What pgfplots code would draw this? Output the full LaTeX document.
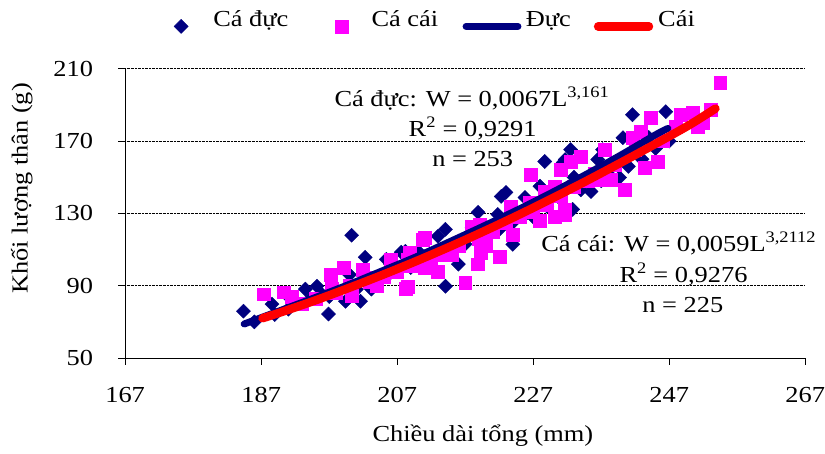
\documentclass[border=0pt]{standalone}
\usepackage{fontspec}
\setmainfont{Liberation Serif}[FakeStretch=1.15]
\usepackage{pgfplots}
\pgfplotsset{compat=1.18}
\definecolor{navyc}{HTML}{000080}
\definecolor{magc}{HTML}{FF00FF}
\definecolor{redc}{HTML}{FF0000}
\pgfplotsset{
 legmark/.style={legend image code/.code={\path (0bp,0bp) (30bp,0bp); \draw[##1] plot coordinates {(12bp,0bp)};}},
 leglineA/.style={legend image code/.code={\path (0bp,0bp) (59bp,0bp); \draw[##1] (3.5bp,0bp) -- (55.5bp,0bp);}},
 leglineB/.style={legend image code/.code={\path (0bp,0bp) (59bp,0bp); \draw[##1] (4bp,0bp) -- (55bp,0bp);}},
}
\begin{document}
\fontsize{23bp}{28bp}\selectfont
\begin{tikzpicture}
\begin{axis}[
 scale only axis, width=682bp, height=290bp,
 xmin=167, xmax=267, ymin=50, ymax=210,
 xtick={167,187,...,267}, ytick={50,90,...,210},
 axis x line*=bottom, axis y line*=left,
 tick align=outside, major tick length=7bp,
 tick style={black, line width=0.8bp},
 axis line style={black, line width=0.8bp},
 ymajorgrids, major grid style={black, densely dotted, line width=0.7bp},
 /pgf/number format/assume math mode=true,
 xticklabel style={inner sep=0pt, anchor=north, yshift=-22bp},
 yticklabel style={inner sep=0pt, anchor=east, xshift=-25bp},
 xlabel={Chiều dài tổng (mm)}, ylabel={Khối lượng thân (g)},
 xlabel style={at={(axis description cs:0.526,-0.269)}, anchor=center, inner sep=0pt},
 ylabel style={at={(axis description cs:-0.152,0.586)}, anchor=center, inner sep=0pt},
 clip=false, clip marker paths=true,
 legend columns=4,
 legend style={draw=none, fill=none, at={(axis description cs:0.0645,1.162)}, anchor=west,
   inner sep=0pt, outer sep=0pt, nodes={inner sep=0pt, anchor=base west},
   /tikz/column 1/.style={column sep=14bp},
   /tikz/column 2/.style={column sep=41bp},
   /tikz/column 3/.style={column sep=12bp},
   /tikz/column 4/.style={column sep=21bp},
   /tikz/column 5/.style={column sep=1bp},
   /tikz/column 6/.style={column sep=19bp},
   /tikz/column 7/.style={column sep=1bp}},
]
% male scatter
\addplot[only marks, mark=square*, mark size=5bp, mark options={rotate=45, fill=navyc, draw=navyc}, legmark]
 table {
x y
184.4 75.9
188.6 79.8
193.5 88.1
195.2 89.7
196.9 74.3
200.3 117.9
202.3 105.7
199.4 81.4
201.6 81.4
205.4 104.6
208.2 109.0
203.2 88.1
228.7 158.7
232.5 165.3
231.7 159.8
222.3 139.4
223.0 141.6
225.8 138.8
218.9 130.6
221.8 129.4
214.1 121.2
213.0 117.3
216.0 101.9
224.0 112.9
214.1 89.7
207.6 108.5
210.1 109.0
241.6 184.6
246.5 186.3
240.2 171.9
231.4 158.1
236.5 159.8
239.7 149.9
235.5 142.1
232.8 132.2
237.2 165.3
186 70
189 74
191 77
192 80
194 82
197 84
198 87
201 88
204 94
206 97
209 100
211 103
212 106
215 108
217 113
219 115
220 118
222 121
224 125
226 130
227 128
229 134
231 138
234 143
237 148
238 152
241 156
243 160
245 166
247 170
244 172
191 84
200 96
196 85
206 102
218 122
228 145
233 150
};
\addlegendentry{Cá đực}
% female scatter
\addplot[only marks, mark=square*, mark size=6.5bp, mark options={fill=magc, draw=magc}, legmark]
 table {
x y
187.4 85.3
190.3 86.4
191.5 83.7
197.2 96.3
197.4 88.1
199.1 100.2
202.0 99.1
202.8 94.7
206.1 104.6
208.9 108.5
210.8 115.7
200.3 84.2
208.2 88.1
226.7 151.5
231.1 154.3
230.2 144.9
228.7 142.1
223.7 133.9
226.5 136.1
217.9 122.8
219.2 123.9
211.1 116.8
208.6 104.6
219.3 108.5
218.9 101.9
222.1 106.3
217.0 91.9
230.2 128.3
231.7 129.4
208.6 89.7
213.0 107.4
254.5 202.3
253.1 187.4
248.7 184.6
250.4 185.7
244.3 183.0
242.8 175.2
241.6 171.9
245.3 158.7
243.4 155.4
240.5 143.2
237.5 165.3
234.0 161.4
232.5 158.7
236.9 148.8
238.4 148.8
231.7 132.2
251.2 178.0
193 80
195 83
198 86
200 90
203 92
205 95
207 98
209 101
211 100
212 104
214 110
215 107
216 112
219 116
221 120
223 125
225 128
227 131
229 135
231 140
233 145
235 148
236 152
239 157
242 165
246 170
248 178
252 180
224 118
228 126
204 90
213 98
220 112
};
\addlegendentry{Cá cái}
% male fit
\addplot[navyc, line width=7bp, line cap=round, smooth, leglineA]
 coordinates {(184.5,68.8) (190,76.5) (195,83.5) (200,90.8) (205,98.5) (210,106.3) (215,114.8) (220,123.5) (225,132.5) (230,142.0) (235,152.0) (240,162.5) (245,173.5) (246.8,177.0)};
\addlegendentry{Đực}
% female fit
\addplot[redc, line width=8.5bp, line cap=round, smooth, leglineB]
 coordinates {(187.2,72.0) (190,75.4) (195,81.9) (200,88.9) (205,96.2) (210,103.9) (215,112.0) (220,120.5) (225,129.4) (230,138.7) (235,148.3) (240,158.3) (245,168.5) (250,179.0) (253.8,188.0)};
\addlegendentry{Cái}
% equations
\node[anchor=base, inner sep=0pt] at (axis cs:218.0,189.0) {Cá đực: W = 0,0067L\textsuperscript{3,161}};
\node[anchor=base, inner sep=0pt] at (axis cs:218.1,172.5) {R\textsuperscript{2} = 0,9291};
\node[anchor=base, inner sep=0pt] at (axis cs:218.1,155.9) {n = 253};
\node[anchor=base, inner sep=0pt] at (axis cs:248.4,109.0) {Cá cái: W = 0,0059L\textsuperscript{3,2112}};
\node[anchor=base, inner sep=0pt] at (axis cs:249.1,91.9) {R\textsuperscript{2} = 0,9276};
\node[anchor=base, inner sep=0pt] at (axis cs:249.0,75.4) {n = 225};
% frame of the picture
\path (axis description cs:0,0) ++(-125.5bp,-96bp) rectangle ++(825bp,455bp);
\end{axis}
\end{tikzpicture}
\end{document}
